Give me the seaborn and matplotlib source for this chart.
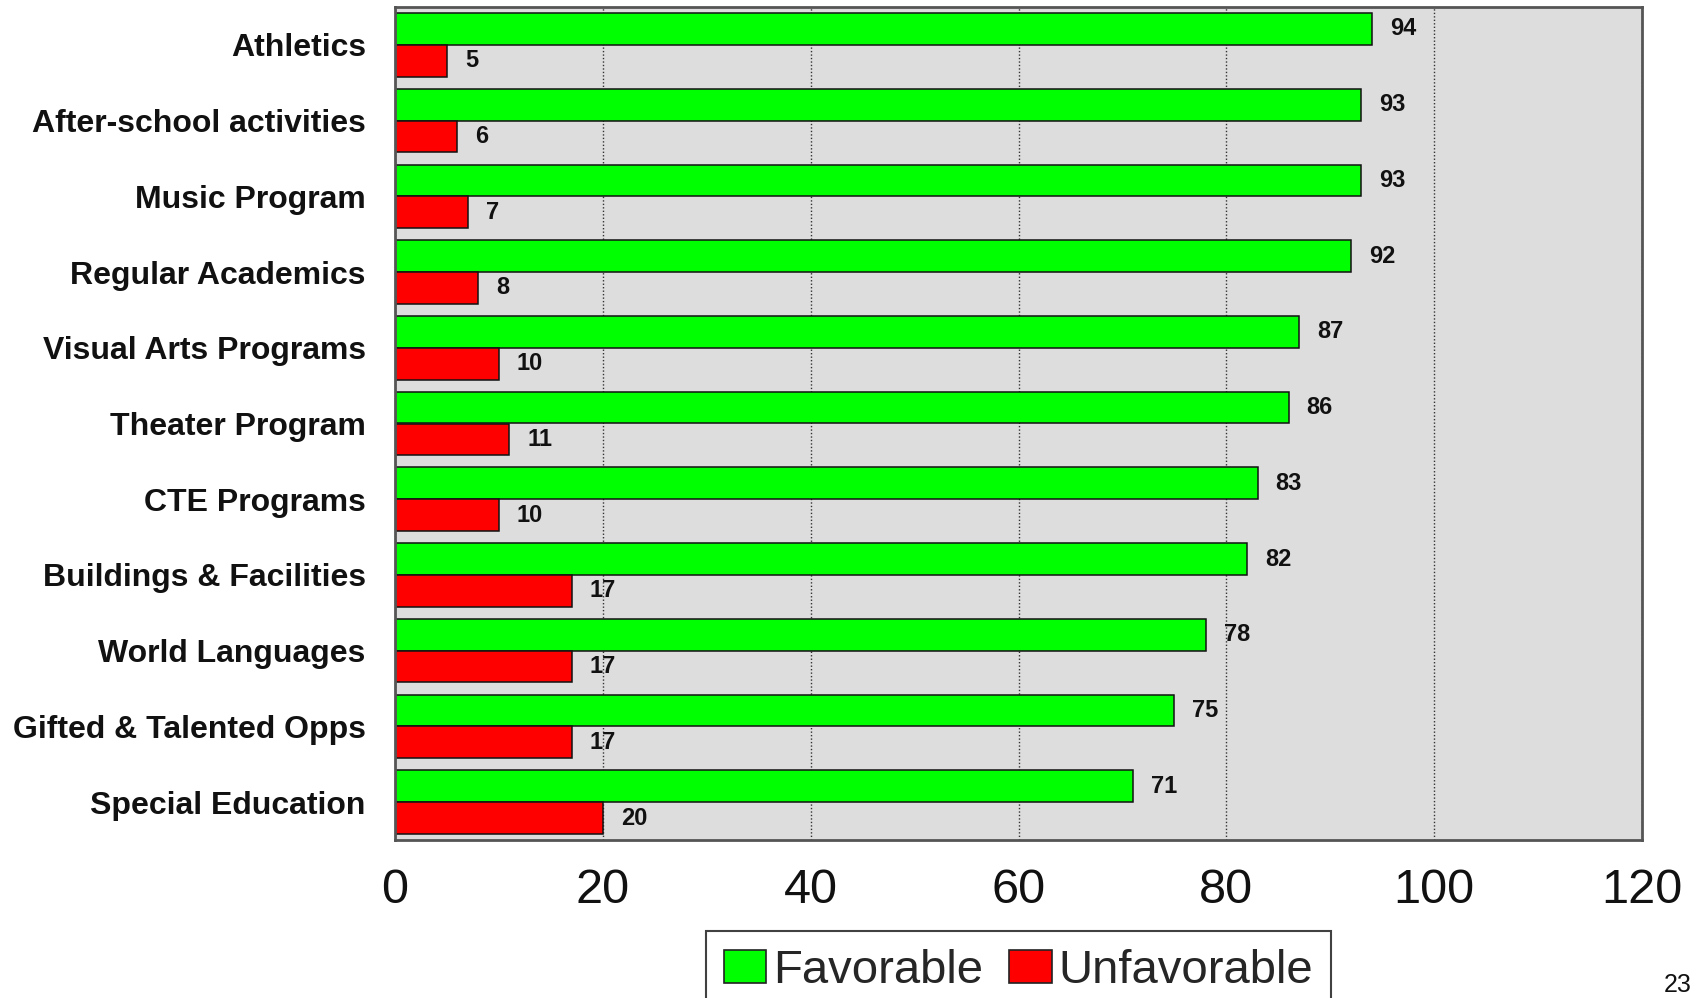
import matplotlib
matplotlib.use("Agg")
import matplotlib.pyplot as plt
import pandas as pd
import seaborn as sns

# Survey results: share of favorable / unfavorable ratings per program
categories = [
    "Athletics",
    "After-school activities",
    "Music Program",
    "Regular Academics",
    "Visual Arts Programs",
    "Theater Program",
    "CTE Programs",
    "Buildings & Facilities",
    "World Languages",
    "Gifted & Talented Opps",
    "Special Education",
]
favorable = [94, 93, 93, 92, 87, 86, 83, 82, 78, 75, 71]
unfavorable = [5, 6, 7, 8, 10, 11, 10, 17, 17, 17, 20]
series_names = ["Favorable", "Unfavorable"]
x_ticks = [0, 20, 40, 60, 80, 100, 120]
page_number = "23"

df = pd.DataFrame({
    "Category": categories * 2,
    "Percent": favorable + unfavorable,
    "Response": [series_names[0]] * len(categories) + [series_names[1]] * len(categories),
})

sns.set_theme(style="white")
plt.rcParams["font.family"] = ["Liberation Sans", "DejaVu Sans"]

fig = plt.figure(figsize=(16.98, 9.98), dpi=100)
ax = fig.add_axes([395 / 1698, 1 - 840 / 998, (1642 - 395) / 1698, (840 - 7) / 998])
ax.set_facecolor("#DDDDDD")

sns.barplot(
    data=df, y="Category", x="Percent", hue="Response", orient="h",
    palette={"Favorable": "#00FF00", "Unfavorable": "#FF0000"},
    saturation=1, width=0.84, edgecolor="#111111", linewidth=1.1,
    ax=ax, legend=True,
)

for container in ax.containers:
    ax.bar_label(container, padding=13, fontsize=17, fontweight="bold", color="#111111")

ax.set_xlim(0, 120)
ax.set_ylim(len(categories) - 0.5, -0.5)
ax.set_xticks(x_ticks)
ax.set_xlabel("")
ax.set_ylabel("")
ax.tick_params(axis="x", length=0, pad=20, labelsize=35, labelcolor="#111111")
ax.tick_params(axis="y", length=0, pad=21, labelsize=23, labelcolor="#111111")
for lbl in ax.get_yticklabels():
    lbl.set_fontweight("bold")

ax.xaxis.grid(True, linestyle=(0, (1, 1.5)), color="#333333", linewidth=1.0)
ax.yaxis.grid(False)
ax.set_axisbelow(True)
for spine in ax.spines.values():
    spine.set_visible(True)
    spine.set_color("#555555")
    spine.set_linewidth(2)

handles, labels = ax.get_legend_handles_labels()
ax.legend(
    handles, labels, loc="upper center", bbox_to_anchor=(0.5, -91 / 833),
    ncol=2, frameon=True, fancybox=False, edgecolor="#111111", fontsize=34,
    borderpad=0.38, handlelength=0.9, handleheight=0.68, handletextpad=0.15,
    columnspacing=0.55, borderaxespad=0,
)
leg = ax.get_legend()
leg.get_frame().set_linewidth(1.5)
for h in leg.legend_handles:
    h.set_edgecolor("#222222")
    h.set_linewidth(1.2)

fig.text(1678 / 1698, 1 - 985 / 998, page_number, ha="center", va="center",
         fontsize=18, color="#111111")

fig.savefig("out.png", dpi=100, facecolor="white")
